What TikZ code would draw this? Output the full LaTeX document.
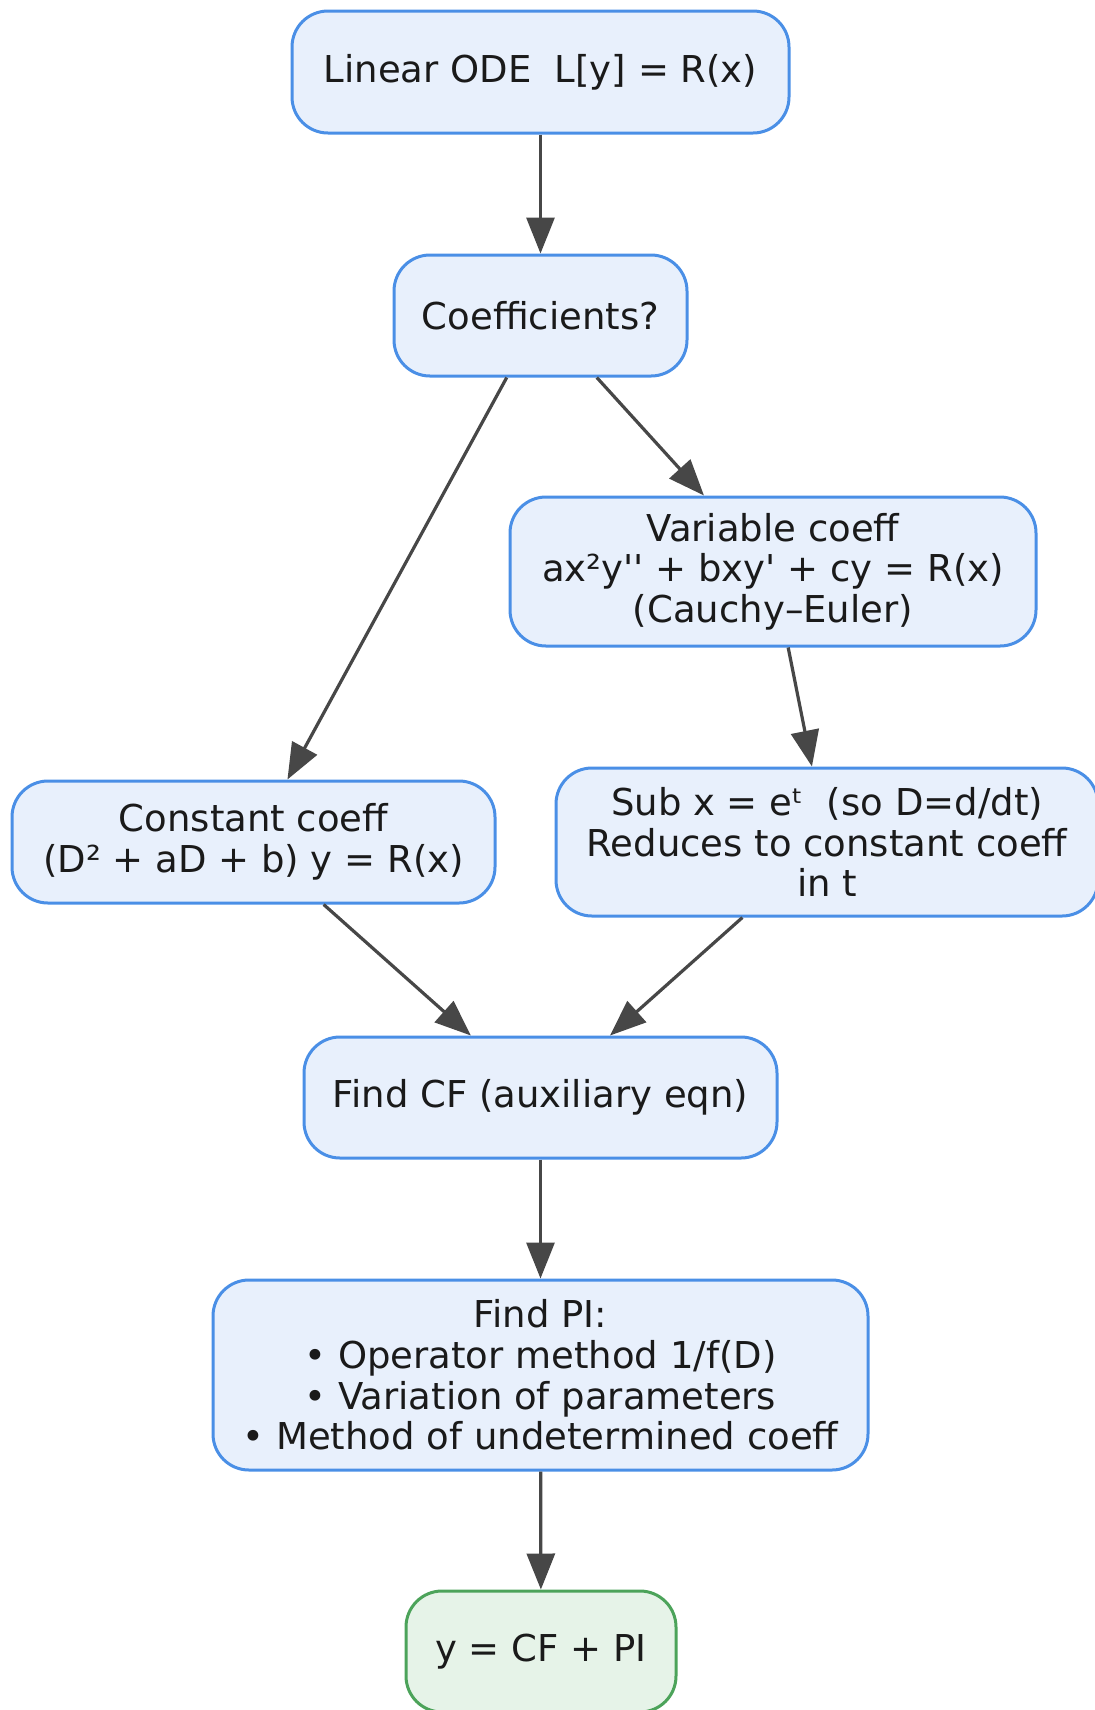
\documentclass[tikz,border=0pt]{standalone}
\usepackage{fontspec}
\newfontfamily\dejavu{DejaVu Sans}
\usetikzlibrary{arrows.meta}
\definecolor{boxline}{HTML}{4A8FE6}
\definecolor{boxfill}{HTML}{E8F0FC}
\definecolor{endline}{HTML}{4CA35A}
\definecolor{endfill}{HTML}{E6F3E8}
\definecolor{arrgray}{HTML}{474747}
\definecolor{textdark}{HTML}{1A1A1A}

\begin{document}
\begin{tikzpicture}[x=0.5pt,y=-0.5pt,
    box/.style={draw=boxline,fill=boxfill,line width=1.5pt,rounded corners=18pt,
        align=center,inner sep=0pt,text=textdark,
        font=\dejavu\fontsize{18.5}{20.3}\selectfont},
    endbox/.style={box,draw=endline,fill=endfill},
    arr/.style={draw=arrgray,line width=1.6pt,-{Triangle[length=18pt,width=14pt]}}]
    \useasboundingbox (0,0) rectangle (1094,1710);
    \node[box,minimum width=248.5pt,minimum height=61pt] (lin) at (540.5,72)
        {Linear ODE\ \ L[y] = R(x)};
    \node[box,minimum width=146.5pt,minimum height=60.5pt] (coef) at (540.5,315.5)
        {Coefficients?};
    \node[box,minimum width=263pt,minimum height=74.5pt] (var) at (773,571.5)
        {Variable coeff\\ax²y'' + bxy' + cy = R(x)\\(Cauchy–Euler)};
    \node[box,minimum width=241.5pt,minimum height=61pt] (const) at (253.5,842)
        {Constant coeff\\(D² + aD + b) y = R(x)};
    \node[box,minimum width=271pt,minimum height=74pt] (sub) at (827,842)
        {Sub x = eᵗ\ \ (so D=d/dt)\\Reduces to constant coeff\\in t};
    \node[box,minimum width=236.5pt,minimum height=60.5pt] (cf) at (540.5,1097.5)
        {Find CF (auxiliary eqn)};
    \node[box,minimum width=327.5pt,minimum height=95pt] (pi) at (540.5,1375)
        {Find PI:\\• Operator method 1/f(D)\\• Variation of parameters\\• Method of undetermined coeff};
    \node[endbox,minimum width=135pt,minimum height=60.5pt] (res) at (541,1651.5)
        {y = CF + PI};
    \draw[arr] (lin) -- (coef);
    \draw[arr] (coef) -- (const);
    \draw[arr] (coef) -- (var);
    \draw[arr] (var) -- (sub);
    \draw[arr] (const) -- (cf);
    \draw[arr] (sub) -- (cf);
    \draw[arr] (cf) -- (pi);
    \draw[arr] (pi) -- (res);
\end{tikzpicture}
\end{document}
